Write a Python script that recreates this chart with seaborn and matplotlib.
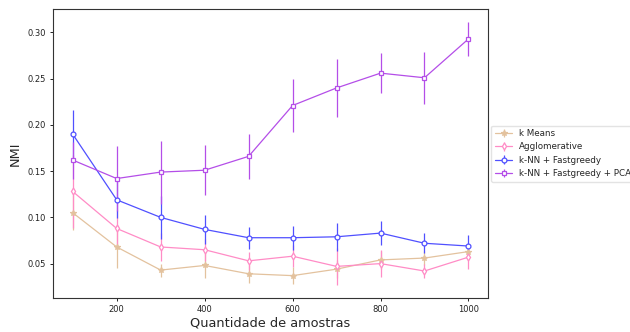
import matplotlib
matplotlib.use("Agg")
import matplotlib.pyplot as plt
import seaborn as sns
import numpy as np

sns.set_style("white")
plt.rcParams['font.family'] = ['DejaVu Sans']

amostras = [100, 200, 300, 400, 500, 600, 700, 800, 900, 1000]

kmeans_mean = [0.105, 0.068, 0.043, 0.048, 0.039, 0.037, 0.044, 0.054, 0.056, 0.063]
kmeans_err = [0.019, 0.023, 0.007, 0.014, 0.010, 0.009, 0.010, 0.010, 0.008, 0.008]

aggl_mean = [0.128, 0.088, 0.068, 0.065, 0.053, 0.058, 0.047, 0.050, 0.042, 0.057]
aggl_err = [0.040, 0.020, 0.015, 0.012, 0.010, 0.012, 0.020, 0.015, 0.008, 0.013]

knn_mean = [0.190, 0.119, 0.100, 0.087, 0.078, 0.078, 0.079, 0.083, 0.072, 0.069]
knn_err = [0.026, 0.020, 0.023, 0.016, 0.012, 0.013, 0.015, 0.013, 0.011, 0.012]

pca_mean = [0.162, 0.142, 0.149, 0.151, 0.166, 0.221, 0.240, 0.256, 0.251, 0.293]
pca_err = [0.020, 0.035, 0.034, 0.027, 0.024, 0.029, 0.031, 0.022, 0.028, 0.018]

series = [
    ("k Means", kmeans_mean, kmeans_err, "#e3c29e", "*", True),
    ("Agglomerative", aggl_mean, aggl_err, "#ff8cc6", "d", False),
    ("k-NN + Fastgreedy", knn_mean, knn_err, "#5050ff", "o", False),
    ("k-NN + Fastgreedy + PCA", pca_mean, pca_err, "#b44ee8", "s", False),
]

fig = plt.figure(figsize=(6.3, 3.32), dpi=100)
ax = fig.add_axes([0.084, 0.1024, 0.691, 0.870])

for label, m, e, c, mk, filled in series:
    ax.errorbar(amostras, m, yerr=e, color=c, marker=mk,
                markersize=4.0 if mk == "*" else 3.5,
                markerfacecolor=c if filled else "white", markeredgecolor=c,
                markeredgewidth=0.9,
                linewidth=0.9, elinewidth=0.9, label=label)

ax.set_xticks([200, 400, 600, 800, 1000])
ax.set_yticks([0.05, 0.10, 0.15, 0.20, 0.25, 0.30])
ax.tick_params(axis="both", labelsize=6, length=2.5, width=0.7, direction="out",
               bottom=True, left=True, colors="#222222", pad=2.5)
for s in ax.spines.values():
    s.set_color("#333333")
    s.set_linewidth(0.8)
ax.set_xlabel("Quantidade de amostras", fontsize=9.3, labelpad=2)
ax.set_ylabel("NMI", fontsize=9.3, labelpad=4)
ax.legend(loc="center left", bbox_to_anchor=(1.0, 0.5), borderaxespad=0.35,
          fontsize=6.3, handlelength=2.0, frameon=True, framealpha=0.8,
          edgecolor="#dddddd")

fig.savefig("out.png", dpi=100)
